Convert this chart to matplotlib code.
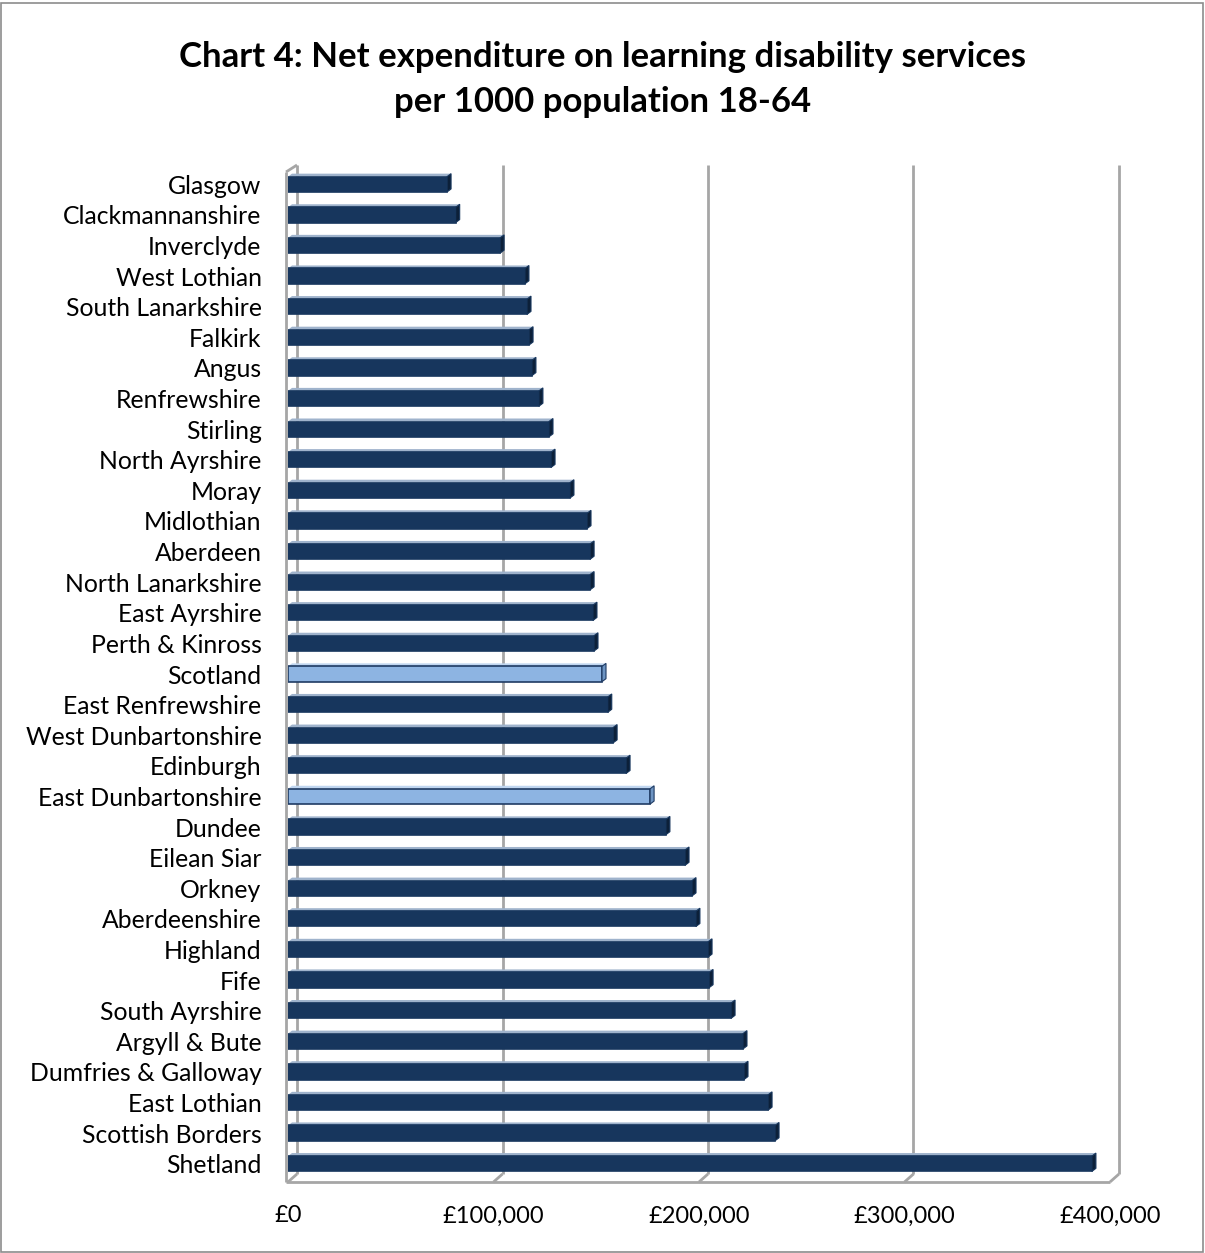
import matplotlib
matplotlib.use("Agg")
import matplotlib.pyplot as plt
from matplotlib.patches import Polygon, Rectangle

# net expenditure per 1000 population aged 18-64 (GBP)
councils = ["Glasgow", "Clackmannanshire", "Inverclyde", "West Lothian", "South Lanarkshire",
            "Falkirk", "Angus", "Renfrewshire", "Stirling", "North Ayrshire", "Moray",
            "Midlothian", "Aberdeen", "North Lanarkshire", "East Ayrshire", "Perth & Kinross",
            "Scotland", "East Renfrewshire", "West Dunbartonshire", "Edinburgh",
            "East Dunbartonshire", "Dundee", "Eilean Siar", "Orkney", "Aberdeenshire",
            "Highland", "Fife", "South Ayrshire", "Argyll & Bute", "Dumfries & Galloway",
            "East Lothian", "Scottish Borders", "Shetland"]
spend = [77400, 81600, 103200, 115300, 116300, 117300, 118700, 122100, 127000, 128000,
         137200, 145500, 147000, 147000, 148400, 148900, 152800, 155600, 158200, 164500,
         176200, 183900, 193200, 196600, 198500, 204400, 204900, 215600, 221400, 221900,
         233600, 237000, 391200]
highlight = ["Scotland", "East Dunbartonshire"]
xticks = [0, 100000, 200000, 300000, 400000]
xticklabels = ["£0", "£100,000", "£200,000", "£300,000", "£400,000"]

W, H = 1205, 1253
fig = plt.figure(figsize=(W / 100, H / 100), dpi=100)
fig.patches.append(Rectangle((0.001, 0.001), 0.997, 0.997, transform=fig.transFigure,
                             fill=False, edgecolor="#8c8c8c", linewidth=1.2))

left, right, top, bottom = 288, 1110, 169, 1179
ax = fig.add_axes([left / W, 1 - bottom / H, (right - left) / W, (bottom - top) / H])
n = len(councils)
ax.set_xlim(0, 400000)
ax.set_ylim(n - 0.5, -0.5)
for s in ax.spines.values():
    s.set_visible(False)

# pixel -> data units
px = 400000 / (right - left)
py = n / (bottom - top)

grid = "#a6a6a6"
fl = -2 * px          # front-left wall line
bx = 9 * px           # back plane x shift
fb = n - 0.5 + 3 * py  # front floor
bb = n - 0.5 - 5 * py  # back floor
tf = -0.5 + 3 * py
tb = -0.5 - 4 * py
lw = 2
kw = dict(color=grid, linewidth=lw, clip_on=False, zorder=1, solid_capstyle="butt")
# left wall
ax.plot([fl, fl], [tf, fb], **kw)
ax.plot([fl, bx + 0], [tf, tb], **kw)
ax.plot([bx, bx], [tb, bb], **kw)
# floor front edge
ax.plot([fl, 400000], [fb, fb], **kw)
# gridlines on back wall, with diagonal down to the floor edge
for t in xticks[1:]:
    ax.plot([t + bx, t + bx], [tb, bb], **kw)
    ax.plot([t + bx, t], [bb, fb], **kw)
ax.plot([bx, 0], [bb, fb], **kw)

h = 0.5
dx, dy = 4 * px, 3 * py
for i, (name, v) in enumerate(zip(councils, spend)):
    if name in highlight:
        face, side, edge = "#8db4e2", "#6d94c2", "#1f3b63"
    else:
        face, side, edge = "#17365d", "#0c2039", "#17365d"
    ax.barh(i, v, height=h, color=face, edgecolor=edge, linewidth=1.2, zorder=3)
    y0, y1 = i - h / 2, i + h / 2
    ax.add_patch(Polygon([(v, y0), (v + dx, y0 - dy), (v + dx, y1 - dy), (v, y1)],
                         closed=True, facecolor=side, edgecolor=edge, linewidth=0.8, zorder=3))
    ax.add_patch(Polygon([(0, y0), (dx, y0 - dy), (v + dx, y0 - dy), (v, y0)],
                         closed=True, facecolor="#9fb3cc" if name not in highlight else "#c0d6f0",
                         edgecolor="none", zorder=2))

fam = ["Lato", "DejaVu Sans"]
ax.set_yticks(range(n))
ax.set_yticklabels(councils, fontsize=17.8, family=fam)
ax.set_xticks(xticks)
ax.set_xticklabels(xticklabels, fontsize=17, family=fam)
ax.tick_params(axis="y", length=0, pad=19)
ax.tick_params(axis="x", length=0, pad=19)

fig.text(0.5, 1 - 57 / H, "Chart 4: Net expenditure on learning disability services",
         ha="center", va="center", fontsize=25, fontweight="bold", family=fam)
fig.text(0.5, 1 - 102 / H, "per 1000 population 18-64",
         ha="center", va="center", fontsize=25, fontweight="bold", family=fam)

fig.savefig("out.png", dpi=100)
